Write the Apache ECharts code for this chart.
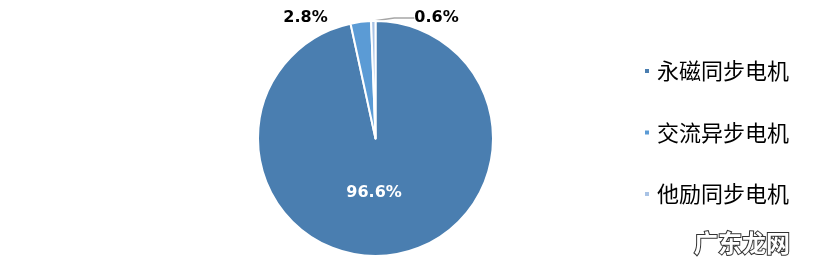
<!DOCTYPE html>
<html><head><meta charset="utf-8">
<script src="https://cdn.jsdelivr.net/npm/echarts@6/dist/echarts.min.js"></script>
<style>html,body{margin:0;padding:0;background:#fff}#c{width:827px;height:278px}</style>
</head><body><div id="c"></div>
<script>
const categories = ['永磁同步电机', '交流异步电机', '他励同步电机'];
const values = [96.6, 2.8, 0.6];
const colors = ['#4a7eb0', '#5b9bd5', '#a9c3e5'];

const chart = echarts.init(document.getElementById('c'), null, {renderer: 'canvas'});
const data = categories.map((n, i) => ({
  name: n, value: values[i],
  itemStyle: {color: colors[i]},
  label: i === 0
    ? {position: 'inside', color: '#fff'}
    : {position: 'outside', color: '#000'},
  labelLine: {show: i === 2, lineStyle: {color: '#a6a6a6', width: 1.5}}
}));
chart.setOption({
  animation: false,
  legend: {
    orient: 'vertical', left: 643, top: 60, padding: 0,
    icon: 'rect', itemWidth: 6, itemHeight: 6, itemGap: 39.5,
    textStyle: {fontSize: 22, lineHeight: 21, color: '#000', fontFamily: 'Noto Sans CJK SC', padding: [0, 0, 0, 2]},
    data: categories
  },
  series: [{
    type: 'pie',
    center: [375.5, 138.5],
    radius: 117.5,
    startAngle: 90,
    clockwise: true,
    avoidLabelOverlap: false,
    itemStyle: {borderColor: '#fff', borderWidth: 2},
    label: {
      show: true, formatter: p => p.value.toFixed(1) + '%',
      fontFamily: 'DejaVu Sans', fontWeight: 'bold', fontSize: 16
    },
    labelLine: {length: 10, length2: 20},
    labelLayout: function (p) {
      if (p.dataIndex === 0) return {dx: -8, dy: -7};
      if (p.dataIndex === 1) return {x: 305.5, y: 18, align: 'center', verticalAlign: 'middle'};
      return {x: 436.5, y: 18, align: 'center', verticalAlign: 'middle'};
    },
    data: data
  }],
  graphic: [{
    type: 'text', right: 36, top: 230,
    style: {text: '广东龙网', fontSize: 24, fontWeight: 'bold', fontFamily: 'Noto Sans CJK SC',
      fill: '#fff', stroke: '#333', lineWidth: 2}
  }]
});
</script></body></html>
